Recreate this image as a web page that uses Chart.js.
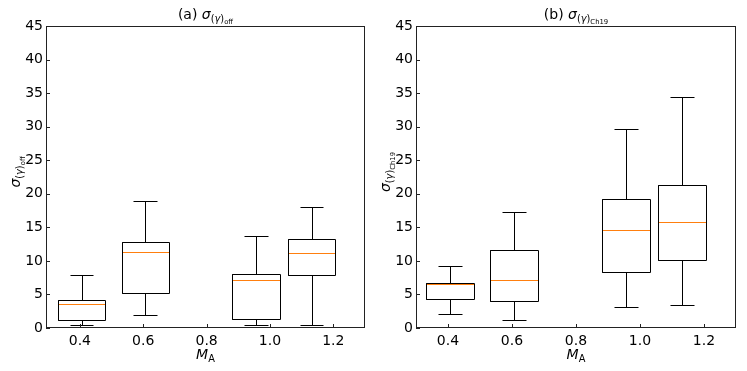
<!DOCTYPE html>
<html>
<head>
<meta charset="utf-8">
<script src="https://cdn.jsdelivr.net/npm/chart.js@4.4.1/dist/chart.umd.min.js"></script>
<style>
  html, body { margin: 0; padding: 0; background: #fff; }
  #wrap { position: relative; width: 747px; height: 371px; overflow: hidden; }
  canvas { position: absolute; top: 0; }
  #left { left: 0; }
  #right { left: 370px; }
</style>
</head>
<body>
<div id="wrap">
  <canvas id="left" width="370" height="371"></canvas>
  <canvas id="right" width="377" height="371"></canvas>
</div>
<script>
// box positions along M_A
const positions = [0.407, 0.608, 0.957, 1.133];
const xTicks = [0.4, 0.6, 0.8, 1.0, 1.2];

// (a) sigma <gamma>_off
const offLow = [0.35, 1.84, 0.35, 0.35];
const offQ1 = [1.1, 5.07, 1.24, 7.75];
const offMedian = [3.53, 11.3, 7.05, 11.1];
const offQ3 = [4.07, 12.8, 8.0, 13.2];
const offHigh = [7.85, 18.9, 13.66, 17.9];

// (b) sigma <gamma>_Ch19
const chLow = [2.0, 1.1, 3.03, 3.3];
const chQ1 = [4.25, 3.9, 8.34, 10.1];
const chMedian = [6.5, 7.1, 14.5, 15.7];
const chQ3 = [6.7, 11.5, 19.1, 21.2];
const chHigh = [9.1, 17.2, 29.55, 34.3];

const BOX_HALF = 0.075;
const CAP_HALF = 0.0375;
const FONT = '"DejaVu Sans", sans-serif';
const BASE = 14;

function lineSet(pts, color) {
  return {
    data: pts, showLine: true, borderColor: color, borderWidth: 1,
    pointRadius: 0, pointHoverRadius: 0, fill: false, tension: 0
  };
}

function boxDatasets(low, q1, med, q3, high) {
  const ds = [];
  positions.forEach((p, i) => {
    ds.push(lineSet([
      { x: p - BOX_HALF, y: q1[i] }, { x: p + BOX_HALF, y: q1[i] },
      { x: p + BOX_HALF, y: q3[i] }, { x: p - BOX_HALF, y: q3[i] },
      { x: p - BOX_HALF, y: q1[i] }
    ], '#000'));
    ds.push(lineSet([{ x: p, y: q3[i] }, { x: p, y: high[i] }], '#000'));
    ds.push(lineSet([{ x: p, y: q1[i] }, { x: p, y: low[i] }], '#000'));
    ds.push(lineSet([{ x: p - CAP_HALF, y: high[i] }, { x: p + CAP_HALF, y: high[i] }], '#000'));
    ds.push(lineSet([{ x: p - CAP_HALF, y: low[i] }, { x: p + CAP_HALF, y: low[i] }], '#000'));
    ds.push(lineSet([{ x: p - BOX_HALF, y: med[i] }, { x: p + BOX_HALF, y: med[i] }], '#ff7f0e'));
  });
  return ds;
}

// draws a run of text pieces (mathtext-like sub/subsub scripts), centred on x
function drawMath(ctx, parts, x, y) {
  let total = 0;
  parts.forEach(p => {
    ctx.font = (p.it ? 'italic ' : '') + (BASE * p.s) + 'px ' + FONT;
    p.w = ctx.measureText(p.t).width;
    total += p.w;
  });
  let cx = x - total / 2;
  ctx.textAlign = 'left';
  ctx.textBaseline = 'alphabetic';
  ctx.fillStyle = '#000';
  parts.forEach(p => {
    ctx.font = (p.it ? 'italic ' : '') + (BASE * p.s) + 'px ' + FONT;
    ctx.fillText(p.t, cx, y + (p.dy || 0) * BASE);
    cx += p.w;
  });
}

function sigmaParts(sub) {
  return [
    { t: 'σ', s: 1, it: true },
    { t: '(', s: 0.7, dy: 0.22 },
    { t: 'γ', s: 0.7, dy: 0.22, it: true },
    { t: ')', s: 0.7, dy: 0.22 },
    { t: sub, s: 0.49, dy: 0.36 }
  ];
}

// snap line vertices to pixel centres so 1px strokes stay crisp
const snap = {
  id: 'snap',
  beforeDatasetsDraw(chart) {
    chart.data.datasets.forEach((d, i) => {
      chart.getDatasetMeta(i).data.forEach(pt => {
        pt.x = Math.round(pt.x - 0.5) + 0.5;
        pt.y = Math.round(pt.y - 0.5) + 0.5;
      });
    });
  }
};

const decor = {
  id: 'decor',
  afterDraw(chart) {
    const { ctx, chartArea: a, scales } = chart;
    const o = chart.options.plugins.decor;
    ctx.save();
    // frame
    ctx.strokeStyle = '#222';
    ctx.lineWidth = 1;
    ctx.strokeRect(Math.round(a.left) + 0.5, Math.round(a.top) + 0.5,
      Math.round(a.right - a.left) - 1, Math.round(a.bottom - a.top) - 1);
    // inward ticks
    ctx.beginPath();
    scales.x.ticks.forEach(t => {
      const px = Math.round(scales.x.getPixelForValue(t.value)) + 0.5;
      ctx.moveTo(px, a.bottom); ctx.lineTo(px, a.bottom - 4);
    });
    scales.y.ticks.forEach(t => {
      const py = Math.round(scales.y.getPixelForValue(t.value)) + 0.5;
      ctx.moveTo(a.left, py); ctx.lineTo(a.left + 4, py);
    });
    ctx.stroke();
    // title
    const mid = (a.left + a.right) / 2;
    drawMath(ctx, [{ t: o.tag + ' ', s: 1 }].concat(sigmaParts(o.sub)), mid, 19);
    // x label
    drawMath(ctx, [{ t: 'M', s: 1, it: true }, { t: 'A', s: 0.7, dy: 0.2 }], mid, 359);
    // y label
    ctx.translate(o.yLabelX, 172);
    ctx.rotate(-Math.PI / 2);
    drawMath(ctx, sigmaParts(o.sub), 0, 0);
    ctx.restore();
  }
};

function makeChart(id, datasets, opts) {
  return new Chart(document.getElementById(id), {
    type: 'scatter',
    data: { datasets },
    plugins: [snap, decor],
    options: {
      responsive: false,
      animation: false,
      layout: { padding: { top: 26, right: opts.padRight, bottom: 0, left: 0 } },
      plugins: {
        legend: { display: false },
        tooltip: { enabled: false },
        decor: opts
      },
      scales: {
        x: {
          type: 'linear', min: opts.xMin, max: 1.3,
          grid: { display: false, drawTicks: false },
          border: { display: false },
          afterBuildTicks: s => { s.ticks = xTicks.map(v => ({ value: v })); },
          afterFit: s => { s.height = 43; },
          ticks: {
            padding: 5, color: '#000', font: { family: FONT, size: BASE },
            callback: v => Number(v).toFixed(1)
          }
        },
        y: {
          min: 0, max: 45,
          grid: { display: false, drawTicks: false },
          border: { display: false },
          afterFit: s => { s.width = 46; },
          ticks: { stepSize: 5, padding: 3, color: '#000', font: { family: FONT, size: BASE } }
        }
      }
    }
  });
}

makeChart('left', boxDatasets(offLow, offQ1, offMedian, offQ3, offHigh),
  { tag: '(a)', sub: 'off', yLabelX: 20, padRight: 5, xMin: 0.293 });
makeChart('right', boxDatasets(chLow, chQ1, chMedian, chQ3, chHigh),
  { tag: '(b)', sub: 'Ch19', yLabelX: 20, padRight: 11, xMin: 0.3 });
</script>
</body>
</html>
